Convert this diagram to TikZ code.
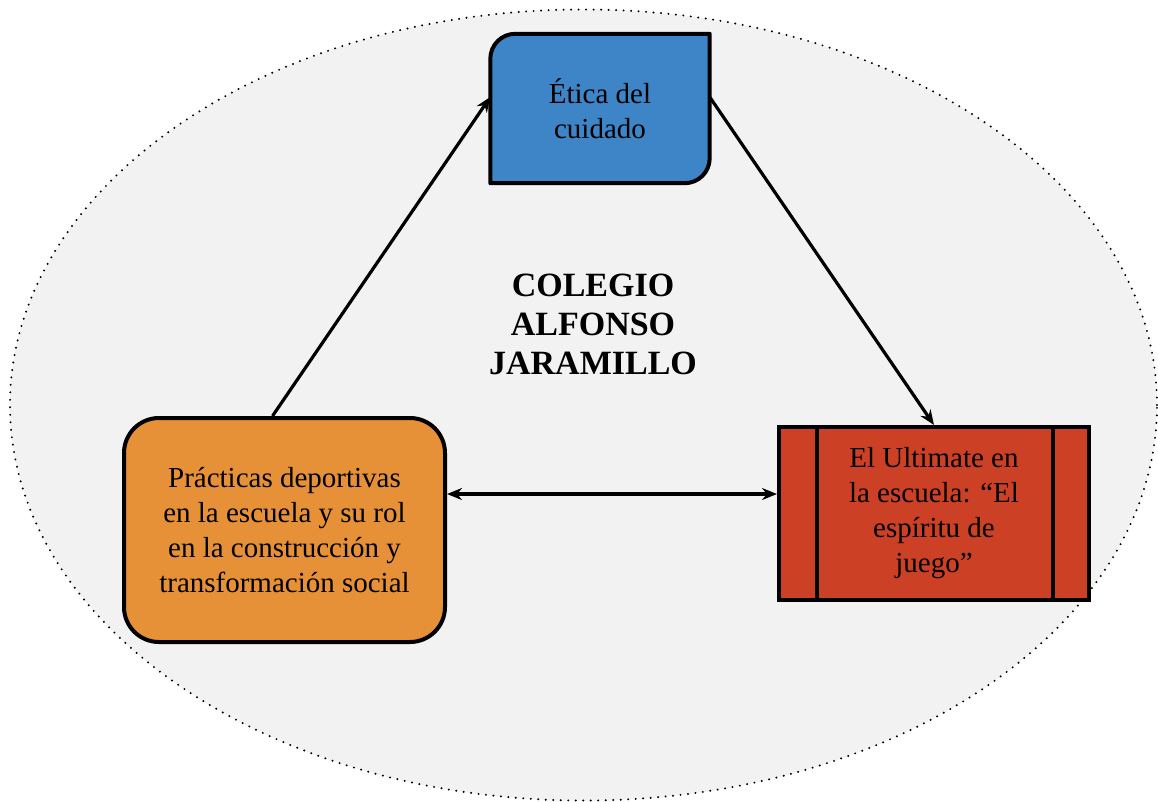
\documentclass[tikz,border=0pt]{standalone}
\usepackage{fontspec}
\setmainfont{Liberation Serif}
\usetikzlibrary{arrows.meta,calc}
\definecolor{bgfill}{HTML}{F2F2F2}
\definecolor{bluefill}{HTML}{3D85C6}
\definecolor{orangefill}{HTML}{E69138}
\definecolor{redfill}{HTML}{CC4125}
\begin{document}
\begin{tikzpicture}[x=1pt,y=1pt,
  boxtext/.style={align=center, font=\fontsize{29}{35}\selectfont, inner sep=0pt},
  outline/.style={draw=black, line width=4pt},
  conn/.style={draw=black, line width=3.2pt, -{Stealth[length=15pt,width=12pt]}},
  dconn/.style={draw=black, line width=3.2pt, {Stealth[length=15pt,width=12pt]}-{Stealth[length=15pt,width=12pt]}},
]
\useasboundingbox (0,0) rectangle (1158,-801);
\fill[white] (0,0) rectangle (1158,-801);
% campus ellipse
\draw[fill=bgfill, line width=2.2pt, dash pattern=on 0pt off 7.5pt, line cap=round]
  (583.5,-405) ellipse [x radius=573.5, y radius=395.5];

% Etica del cuidado (top)
\node[minimum width=219pt, minimum height=149pt, inner sep=0pt] (etica) at (600,-108.5) {};
\filldraw[outline, fill=bluefill, line join=round]
  (etica.south west) -- ([yshift=-25pt]etica.north west)
  arc[start angle=180, end angle=90, radius=25pt]
  -- (etica.north east) -- ([yshift=25pt]etica.south east)
  arc[start angle=0, end angle=-90, radius=25pt]
  -- cycle;
\node[boxtext] (eticatext) at (etica.center) {Ética del\\cuidado};

% Practicas (left)
\node[outline, fill=orangefill, rounded corners=35pt, minimum width=321pt,
      minimum height=224pt, boxtext] (practicas) at (284.5,-530)
  {Prácticas deportivas\\en la escuela y su rol\\en la construcción y\\transformación social};

% Ultimate (right)
\node[outline, fill=redfill, minimum width=310pt, minimum height=173pt, boxtext]
  (ultimate) at (934,-513.5)
  {El Ultimate en\\la escuela: “El\\espíritu de\\juego”};
\draw[outline] ([xshift=40pt]ultimate.north west) -- ([xshift=40pt]ultimate.south west);
\draw[outline] ([xshift=-38pt]ultimate.north east) -- ([xshift=-38pt]ultimate.south east);

% title
\node[align=center, font=\bfseries\fontsize{34}{39}\selectfont] (title) at (593,-324)
  {COLEGIO\\ALFONSO\\JARAMILLO};

% connectors
\draw[conn] ([xshift=-12pt]practicas.north) -- ([yshift=11.5pt]etica.west);
\draw[conn] ([yshift=11.5pt]etica.east) -- (ultimate.north);
\draw[dconn] ([yshift=36pt]practicas.east) -- ([yshift=19.5pt]ultimate.west);
\end{tikzpicture}
\end{document}
